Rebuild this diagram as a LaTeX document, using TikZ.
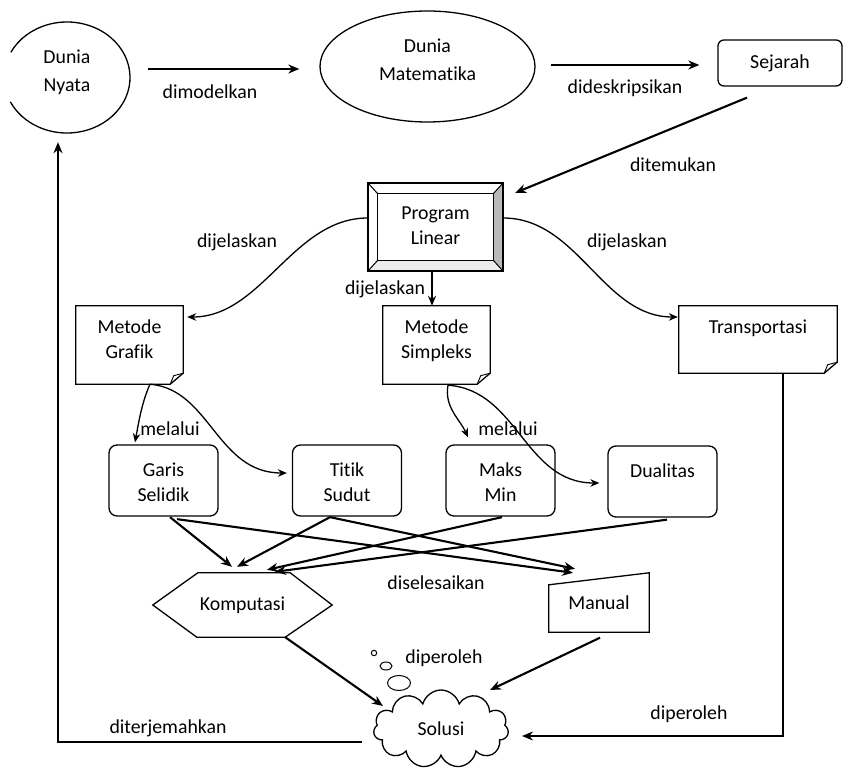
\documentclass[tikz,border=0pt]{standalone}
\usepackage{fontspec}
\setmainfont{Carlito}[Ligatures=NoCommon]
\usetikzlibrary{arrows.meta,calc,shapes.geometric,shapes.symbols}
\newcommand{\docshape}[1]{%
  \draw[boxline] (#1.north west) -- (#1.north east) -- ($(#1.south east)+(0,-11)$) -- ($(#1.south east)+(-13,0)$) -- (#1.south west) -- cycle;
  \draw[line width=0.9pt] ($(#1.south east)+(-13,0)$) -- ($(#1.south east)+(-9.5,-8.5)$) -- ($(#1.south east)+(0,-11)$);}
\begin{document}
\begin{tikzpicture}[x=1pt,y=-1pt,
  every node/.style={font=\fontsize{19.8}{25}\selectfont, inner sep=0pt, align=center},
  bigfont/.style={font=\fontsize{19.8}{28}\selectfont},
  boxline/.style={line width=1.3pt},
  conn/.style={line width=2.1pt, -{Stealth[length=11pt,width=9pt]}},
  curv/.style={line width=1.3pt, -{Stealth[length=9pt,width=7.5pt]}},
  rbox/.style={draw, boxline, rounded corners=8pt, minimum width=109pt, minimum height=71pt, text height=41pt, text depth=0pt},
  docbox/.style={minimum width=107pt, minimum height=78pt, text height=39pt, text depth=13pt}
]
\useasboundingbox (0,0) rectangle (843,770);
\fill[white] (0,0) rectangle (843,770);

% top row
\node[ellipse, bigfont, minimum width=126pt, minimum height=111pt, text height=42pt, text depth=13pt] (nyata) at (67,77.5) {Dunia\\Nyata};
\draw[boxline] ($(nyata.center)+(153:63pt and 55.5pt)$) arc[start angle=153, end angle=-154, x radius=63pt, y radius=55.5pt];
\node[ellipse, draw, boxline, bigfont, minimum width=215pt, minimum height=111pt, text height=42pt, text depth=13pt] (mat) at (427.5,66.5) {Dunia\\Matematika};
\node[draw, boxline, rounded corners=6pt, minimum width=124pt, minimum height=46pt] (sej) at (780,63) {Sejarah};

% program linear (bevel)
\node[minimum width=135pt, minimum height=88pt, text height=39pt, text depth=5pt] (pl) at (435.5,227) {Program\\Linear};
\fill[gray!55] (pl.north east) -- (pl.south east) -- ($(pl.south east)+(-10,-11)$) -- ($(pl.north east)+(-10,11)$) -- cycle;
\fill[gray!15] (pl.south west) -- (pl.south east) -- ($(pl.south east)+(-10,-11)$) -- ($(pl.south west)+(10,-11)$) -- cycle;
\draw[line width=1.5pt] (pl.north west) rectangle (pl.south east);
\draw[line width=1.2pt] ($(pl.north west)+(10,11)$) rectangle ($(pl.south east)+(-10,-11)$);
\draw[line width=1pt] (pl.north west) -- ($(pl.north west)+(10,11)$) (pl.north east) -- ($(pl.north east)+(-10,11)$)
  (pl.south west) -- ($(pl.south west)+(10,-11)$) (pl.south east) -- ($(pl.south east)+(-10,-11)$);

% second row
\node[docbox] (grafik) at (129.5,345) {Metode\\Grafik};
\docshape{grafik}
\node[docbox] (simpleks) at (436.5,345) {Metode\\Simpleks};
\docshape{simpleks}
\node[minimum width=158pt, minimum height=67pt, text height=14pt, text depth=27pt] (trans) at (758,339.5) {Transportasi};
\docshape{trans}

% third row
\node[rbox] (garis) at (163.5,480.5) {Garis\\Selidik};
\node[rbox] (titik) at (347,480.5) {Titik\\Sudut};
\node[rbox] (maks) at (500.5,480.5) {Maks\\Min};
\node[rbox, text height=14pt, text depth=23pt] (dual) at (662.5,481.5) {Dualitas};

% bottom
\node[minimum width=179pt, minimum height=64pt] (komp) at (242.5,605) {Komputasi};
\draw[boxline] (komp.west) -- ($(komp.north west)+(45,0)$) -- ($(komp.north east)+(-42,0)$) -- (komp.east) -- ($(komp.south east)+(-47,0)$) -- ($(komp.south west)+(44,0)$) -- cycle;
\node[minimum width=100pt, minimum height=59pt] (manual) at (599,602.5) {Manual};
\draw[boxline] (manual.south west) -- ($(manual.north west)+(0,12)$) -- (manual.north east) -- (manual.south east) -- cycle;
\node[cloud, draw, boxline, cloud puffs=11, aspect=1.75, minimum width=135pt, minimum height=78pt] (solusi) at (441,729) {Solusi};
\draw[line width=1pt] (374,653) circle[radius=2.7pt];
\draw[line width=1pt] (386,666) ellipse[x radius=6pt, y radius=4pt];
\draw[line width=1pt] (399,683) ellipse[x radius=11.5pt, y radius=7.5pt];

% labels
\node (l1) at (210,92) {dimodelkan};
\node (l2) at (625,88) {dideskripsikan};
\node (l3) at (673,165) {ditemukan};
\node (l4) at (237,242) {dijelaskan};
\node (l5) at (385,289) {dijelaskan};
\node (l6) at (627,242) {dijelaskan};
\node (l7) at (170,429) {melalui};
\node (l8) at (508,429) {melalui};
\node (l9) at (436,583) {diselesaikan};
\node (l10) at (444,658) {diperoleh};
\node (l11) at (689,714) {diperoleh};
\node (l12) at (168,728) {diterjemahkan};

% connectors
\draw[conn] ($(nyata.east)+(18,-8.5)$) -- ($(mat.west)+(-20,2.5)$);
\draw[conn] ($(mat.east)+(15,-1.5)$) -- ($(sej.west)+(-18,2)$);
\draw[conn] ($(sej.south)+(-33,11)$) -- ($(pl.north east)+(12,10)$);
\draw[curv] ($(pl.west)+(0,-9)$) .. controls +(-75,0) and +(75,0) .. ($(grafik.east)+(4,-28)$);
\draw[curv] ($(pl.east)+(0,-9)$) .. controls +(75,0) and +(-75,0) .. ($(trans.west)+(-1,-22.5)$);
\draw[line width=2pt, -{Stealth[length=10pt,width=8pt]}] ($(pl.south)+(-3.5,0)$) -- ($(simpleks.north)+(-4.5,0)$);
\draw[curv] ($(grafik.south)+(20.5,0)$) .. controls +(-8,18) and +(4,-22) .. ($(garis.north)+(-28.5,-2)$);
\draw[curv] ($(grafik.south)+(20.5,0)$) .. controls +(60,5) and +(-70,0) .. ($(titik.west)+(-5,-7.5)$);
\draw[curv] ($(simpleks.south)+(11.5,1)$) .. controls +(-4,22) and +(-8,-18) .. ($(maks.north)+(-32.5,-7)$);
\draw[curv] ($(simpleks.south)+(11.5,1)$) .. controls +(70,5) and +(-75,0) .. ($(dual.west)+(-8,1.5)$);

\draw[conn] ($(garis.south)+(6.5,0.5)$) -- ($(komp.north)+(-10.5,-6)$);
\draw[conn] ($(titik.south)+(-17,0.5)$) -- ($(komp.north)+(-5.5,-6)$);
\draw[conn] ($(maks.south)+(1.5,0.5)$) -- ($(komp.north)+(24.5,-3)$);
\draw[conn] ($(dual.south)+(4.5,2)$) -- ($(komp.north)+(32.5,-1)$);
\draw[conn] ($(garis.south)+(13.5,2.5)$) -- ($(manual.north)+(-26,0)$);
\draw[conn] ($(titik.south)+(-17,0.5)$) -- ($(manual.north)+(-24,-4)$);

\draw[conn] ($(komp.south east)+(-47,0)$) -- ($(solusi.center)+(-58,-23)$);
\draw[conn] ($(manual.south)+(1,5.5)$) -- ($(solusi.center)+(49,-39)$);
\draw[conn] ($(trans.south)+(25,0)$) |- ($(solusi.center)+(81,7)$);
\draw[conn] ($(solusi.center)+(-79,13)$) -| ($(nyata.south)+(-9,9)$);
\end{tikzpicture}
\end{document}
